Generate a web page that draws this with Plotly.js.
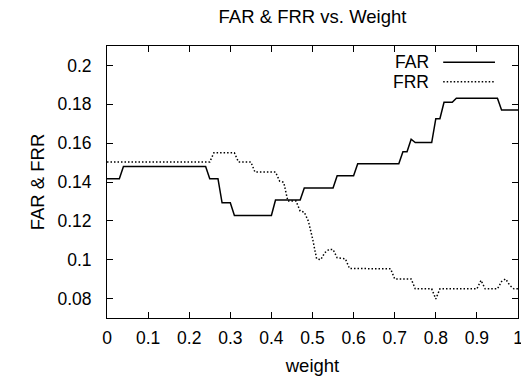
<!DOCTYPE html>
<html>
<head>
<meta charset="utf-8">
<script src="https://cdn.plot.ly/plotly-3.0.1.min.js"></script>
<style>
html,body{margin:0;padding:0;background:#fff;}
#chart{width:521px;height:376px;}
</style>
</head>
<body>
<div id="chart"></div>
<script>
// FAR breakpoints (weight, rate)
const farWeight = [0, 0.03, 0.04, 0.24, 0.25, 0.27, 0.28, 0.30, 0.31, 0.40, 0.41, 0.47, 0.48, 0.55, 0.56, 0.60, 0.61, 0.71, 0.72, 0.73, 0.74, 0.75, 0.79, 0.80, 0.81, 0.82, 0.84, 0.85, 0.95, 0.96, 1.00];
const farValues = [0.1417, 0.1417, 0.148, 0.148, 0.1417, 0.1417, 0.1293, 0.1293, 0.1228, 0.1228, 0.1307, 0.1307, 0.1369, 0.1369, 0.1432, 0.1432, 0.1494, 0.1494, 0.1556, 0.1556, 0.162, 0.1603, 0.1603, 0.1726, 0.1726, 0.181, 0.181, 0.1831, 0.1831, 0.177, 0.177];

// FRR breakpoints (weight, rate)
const frrWeight = [0, 0.25, 0.26, 0.31, 0.32, 0.35, 0.36, 0.41, 0.42, 0.43, 0.44, 0.46, 0.47, 0.48, 0.49, 0.50, 0.51, 0.52, 0.53, 0.54, 0.55, 0.56, 0.58, 0.59, 0.69, 0.70, 0.74, 0.75, 0.79, 0.80, 0.81, 0.90, 0.91, 0.92, 0.95, 0.96, 0.97, 0.98, 0.99, 1.00];
const frrValues = [0.1503, 0.1503, 0.155, 0.155, 0.1503, 0.1503, 0.1451, 0.1451, 0.1405, 0.1398, 0.1302, 0.1302, 0.125, 0.1245, 0.1198, 0.111, 0.1005, 0.1, 0.1036, 0.1053, 0.1053, 0.101, 0.1005, 0.0955, 0.0953, 0.0901, 0.0901, 0.085, 0.085, 0.0798, 0.085, 0.085, 0.0894, 0.085, 0.085, 0.0888, 0.0901, 0.0868, 0.085, 0.085];

const seriesNames = ["FAR", "FRR"];
const xTicks = [0, 0.1, 0.2, 0.3, 0.4, 0.5, 0.6, 0.7, 0.8, 0.9, 1];
const yTicks = [0.08, 0.1, 0.12, 0.14, 0.16, 0.18, 0.2];

const FONT = "Liberation Sans, Arial, Helvetica, sans-serif";
const TICK_SIZE = 17.5;
const TITLE_SIZE = 18.5;

const traces = [
  {x: farWeight, y: farValues, name: seriesNames[0], mode: "lines",
   line: {color: "#000", width: 1.5}, showlegend: false, hoverinfo: "skip"},
  {x: frrWeight, y: frrValues, name: seriesNames[1], mode: "lines",
   line: {color: "#000", width: 1.5, dash: "1.5px,2px"}, showlegend: false, hoverinfo: "skip"}
];

const axisCommon = {
  showline: true, linecolor: "#000", linewidth: 1, mirror: "ticks",
  ticks: "inside", ticklen: 6, tickwidth: 1, tickcolor: "#000",
  showgrid: false, zeroline: false, fixedrange: true,
  ticklabeloverflow: "allow",
  tickfont: {family: FONT, size: TICK_SIZE, color: "#000"}
};

const layout = {
  width: 521, height: 376,
  margin: {l: 107, r: 3, t: 46, b: 58, pad: 0},
  paper_bgcolor: "#fff", plot_bgcolor: "#fff",
  font: {family: FONT, size: TICK_SIZE, color: "#000"},
  title: {text: "FAR &amp; FRR vs. Weight", x: 0.5, xanchor: "center", y: 0.955, yanchor: "middle",
          xref: "paper", font: {family: FONT, size: TITLE_SIZE, color: "#000"}},
  xaxis: Object.assign({}, axisCommon, {
    range: [0, 1], tickvals: xTicks, ticklabelstandoff: 4,
    title: {text: "weight", standoff: 20, font: {family: FONT, size: TITLE_SIZE, color: "#000"}}
  }),
  yaxis: Object.assign({}, axisCommon, {
    range: [0.07, 0.21], tickvals: yTicks, ticklabelstandoff: 11,
    title: {text: "FAR &amp; FRR", standoff: 7, font: {family: FONT, size: TITLE_SIZE, color: "#000"}}
  }),
  annotations: [
    {text: seriesNames[0], xref: "paper", yref: "paper", x: 0.788, y: 0.940, xanchor: "right", yanchor: "middle",
     showarrow: false, font: {family: FONT, size: TICK_SIZE, color: "#000"}},
    {text: seriesNames[1], xref: "paper", yref: "paper", x: 0.788, y: 0.869, xanchor: "right", yanchor: "middle",
     showarrow: false, font: {family: FONT, size: TICK_SIZE, color: "#000"}}
  ],
  shapes: [
    {type: "line", xref: "paper", yref: "paper", x0: 0.818, x1: 0.944, y0: 0.940, y1: 0.940,
     line: {color: "#000", width: 1.5}},
    {type: "line", xref: "paper", yref: "paper", x0: 0.818, x1: 0.944, y0: 0.869, y1: 0.869,
     line: {color: "#000", width: 1.5, dash: "1.5px,2px"}}
  ]
};

Plotly.newPlot("chart", traces, layout, {staticPlot: true, displayModeBar: false});
</script>
</body>
</html>
